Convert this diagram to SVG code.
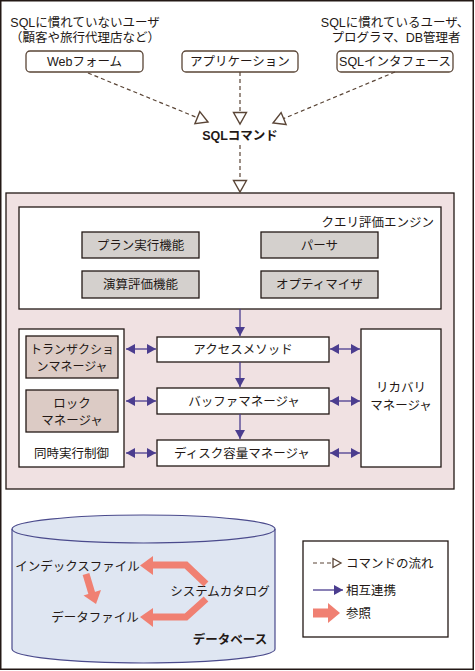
<svg xmlns="http://www.w3.org/2000/svg" width="475" height="671" viewBox="0 0 475 671">
<defs>
<style>
text{font-family:"Liberation Sans","Noto Sans CJK JP",sans-serif;fill:#231815;font-size:12.5px}
.c{text-anchor:middle}
.b{font-weight:bold}
.s{font-size:12px}
.ub{fill:#fff;stroke:#5a4536;stroke-width:1.3}
.box{stroke:#231815;stroke-width:1.3}
.w{fill:#fff}
.g{fill:#d4d0cd}
.t{fill:#dccbc5}
.dash{fill:none;stroke:#5a4536;stroke-width:1.2;stroke-dasharray:4 3}
.pl{fill:none;stroke:#4b3d8f;stroke-width:1.3}
.sal{fill:#f08072}
.salL{fill:none;stroke:#f08072;stroke-width:7;stroke-linejoin:miter}
</style>
<marker id="tri" markerUnits="userSpaceOnUse" markerWidth="16" markerHeight="16" refX="12" refY="7" orient="auto" overflow="visible">
<path d="M0.5,0.5 L12,7 L0.5,13.5 Z" fill="#fff" stroke="#5a4536" stroke-width="1.4" stroke-dasharray="none"/>
</marker>
<marker id="pa" markerUnits="userSpaceOnUse" markerWidth="10" markerHeight="10" refX="9" refY="5" orient="auto-start-reverse" overflow="visible">
<path d="M0,0 L9,5 L0,10 Z" fill="#4b3d8f"/>
</marker>
</defs>
<rect x="0.75" y="0.75" width="472.5" height="668.5" fill="#fff" stroke="#231815" stroke-width="1.5"/>

<g id="user-novice">
<text x="85" y="27" class="c">SQLに慣れていないユーザ</text>
<text x="85" y="42" class="c">（顧客や旅行代理店など）</text>
</g>
<g id="user-expert">
<text x="395" y="27" class="c">SQLに慣れているユーザ、</text>
<text x="396" y="42" class="c">プログラマ、DB管理者</text>
</g>
<g id="web-form">
<rect x="26" y="51" width="117" height="21" rx="4" class="ub"/>
<text x="84.5" y="66" class="c">Webフォーム</text>
</g>
<g id="application">
<rect x="182" y="51" width="116" height="21" rx="4" class="ub"/>
<text x="240" y="66" class="c">アプリケーション</text>
</g>
<g id="sql-interface">
<rect x="337" y="51" width="116" height="21" rx="4" class="ub"/>
<text x="395" y="66" class="c">SQLインタフェース</text>
</g>
<g id="sql-command">
<text x="240" y="140" class="c b">SQLコマンド</text>
</g>

<g id="dbms">
<rect x="6" y="193" width="448" height="296" fill="#f0e1e2" class="box"/>
</g>
<g id="query-engine">
<rect x="19" y="207" width="422" height="102" class="box w"/>
<text x="434" y="227" text-anchor="end">クエリ評価エンジン</text>
</g>
<g id="plan-exec">
<rect x="82" y="232" width="117" height="26" class="box g"/>
<text x="140.5" y="250" class="c">プラン実行機能</text>
</g>
<g id="parser">
<rect x="261" y="232" width="117" height="26" class="box g"/>
<text x="319.5" y="250" class="c">パーサ</text>
</g>
<g id="operator-eval">
<rect x="82" y="271" width="117" height="27" class="box g"/>
<text x="140.5" y="289" class="c">演算評価機能</text>
</g>
<g id="optimizer">
<rect x="261" y="271" width="117" height="27" class="box g"/>
<text x="319.5" y="289" class="c">オプティマイザ</text>
</g>
<g id="concurrency">
<rect x="19" y="329" width="105" height="138" class="box w"/>
<text x="71.5" y="458" class="c">同時実行制御</text>
</g>
<g id="transaction-manager">
<rect x="26" y="336" width="92" height="42" class="box t"/>
<text x="72" y="354" class="c s">トランザクショ</text>
<text x="72" y="371" class="c s">ンマネージャ</text>
</g>
<g id="lock-manager">
<rect x="26" y="390" width="92" height="42" class="box t"/>
<text x="72" y="408" class="c">ロック</text>
<text x="72" y="425" class="c">マネージャ</text>
</g>
<g id="access-method">
<rect x="157" y="337" width="172" height="25" class="box w"/>
<text x="243" y="354" class="c">アクセスメソッド</text>
</g>
<g id="buffer-manager">
<rect x="157" y="388" width="172" height="26" class="box w"/>
<text x="244" y="406" class="c">バッファマネージャ</text>
</g>
<g id="disk-manager">
<rect x="157" y="440" width="172" height="26" class="box w"/>
<text x="242" y="458" class="c">ディスク容量マネージャ</text>
</g>
<g id="recovery-manager">
<rect x="361" y="329" width="80" height="138" class="box w"/>
<text x="401" y="392" class="c">リカバリ</text>
<text x="401" y="410" class="c">マネージャ</text>
</g>

<g id="database">
<path d="M12,529 A131.5,14 0 0,1 275,529 L275,649 A131.5,14 0 0,1 12,649 Z" fill="#dfe6f2" stroke="#4a4a8c" stroke-width="1.2"/>
<path d="M12,529 A131.5,14 0 0,0 275,529" fill="none" stroke="#4a4a8c" stroke-width="1.2"/>
<text x="77.5" y="571" class="c">インデックスファイル</text>
<text x="95" y="622" class="c">データファイル</text>
<text x="220" y="596" class="c">システムカタログ</text>
<text x="230" y="644" class="c b">データベース</text>
</g>

<g id="connectors">
<path d="M88,73 L208,122" class="dash" marker-end="url(#tri)"/>
<path d="M240,72 L240,124" class="dash" marker-end="url(#tri)"/>
<path d="M395,72 L273,123" class="dash" marker-end="url(#tri)"/>
<path d="M240,145 L240,192" class="dash" marker-end="url(#tri)"/>
<path d="M240,309 L240,336" class="pl" marker-end="url(#pa)"/>
<path d="M240,362 L240,387" class="pl" marker-end="url(#pa)"/>
<path d="M240,414 L240,439" class="pl" marker-end="url(#pa)"/>
<path d="M126,349 L156,349" class="pl" marker-start="url(#pa)" marker-end="url(#pa)"/>
<path d="M126,401 L156,401" class="pl" marker-start="url(#pa)" marker-end="url(#pa)"/>
<path d="M126,453 L156,453" class="pl" marker-start="url(#pa)" marker-end="url(#pa)"/>
<path d="M330,349 L360,349" class="pl" marker-start="url(#pa)" marker-end="url(#pa)"/>
<path d="M330,401 L360,401" class="pl" marker-start="url(#pa)" marker-end="url(#pa)"/>
<path d="M330,453 L360,453" class="pl" marker-start="url(#pa)" marker-end="url(#pa)"/>
<polyline points="206,584 186,565 151,565" class="salL"/>
<polygon points="140,565.5 153,556 153,575" class="sal"/>
<polyline points="206,599 186,617 151,617" class="salL"/>
<polygon points="140,617 153,608 153,627" class="sal"/>
<line x1="86" y1="574" x2="92" y2="594" class="salL"/>
<polygon points="96,604 83.5,595.5 101,590" class="sal"/>
</g>

<g id="legend">
<rect x="303" y="541" width="145" height="96" fill="#fff" stroke="#231815" stroke-width="1.3"/>
<path d="M313,563 L333,563" class="dash"/>
<path d="M333,558.5 L341,563 L333,567.5 Z" fill="#fff" stroke="#5a4536" stroke-width="1.3"/>
<text x="346" y="568">コマンドの流れ</text>
<path d="M313,590 L343,590" class="pl" marker-end="url(#pa)"/>
<text x="346" y="595">相互連携</text>
<rect x="313" y="608.5" width="16" height="9" class="sal"/>
<polygon points="328,603 340,613 328,623" class="sal"/>
<text x="346" y="618">参照</text>
</g>
</svg>
